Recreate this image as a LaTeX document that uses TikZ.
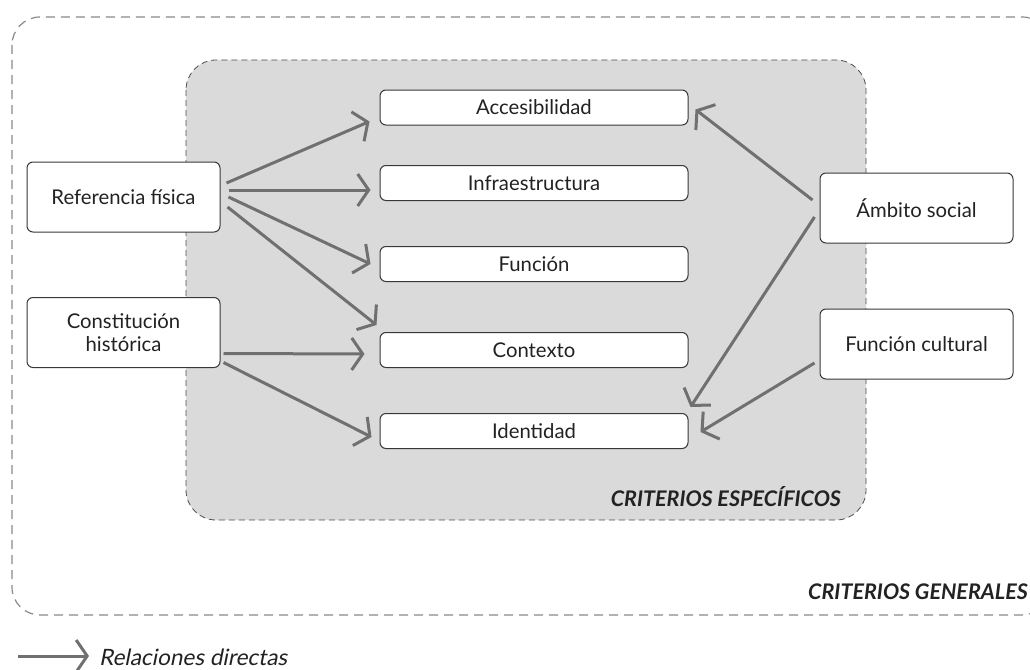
\documentclass[tikz,border=0pt]{standalone}
\usepackage{fontspec}
\setmainfont{Lato}
\newfontfamily\obliquefont{Lato}[FakeSlant=0.2]
\usetikzlibrary{arrows.meta}
\definecolor{relgray}{HTML}{707070}
\definecolor{panel}{HTML}{DADADA}
\definecolor{frame}{HTML}{8A8A8A}
\definecolor{ink}{HTML}{222222}
\tikzset{
  crit/.style={draw=ink!90, line width=1pt, rounded corners=6pt, fill=white,
    text=ink, font=\fontsize{20.3}{23}\selectfont, align=center, inner sep=0pt},
  midbox/.style={crit, minimum width=308pt, minimum height=35pt},
  sidebox/.style={crit, minimum width=193pt, minimum height=70pt},
  rel/.style={draw=relgray, line width=3pt,
    -{Straight Barb[length=11pt,width=32pt,line width=3pt]}},
  tag/.style={font=\fontsize{21.5}{25}\selectfont\bfseries\itshape, text=ink, inner sep=0pt},
  legendtext/.style={font=\obliquefont\fontsize{22.5}{26}\selectfont, text=ink, inner sep=0pt},
}
\begin{document}
\begin{tikzpicture}[x=1pt,y=-1pt]
\useasboundingbox (0,0) rectangle (1030,669);
\fill[white] (0,0) rectangle (1030,669);

% general criteria frame (runs past the right edge)
\begin{scope}
\clip (0,0) rectangle (1030,669);
\draw[frame, line width=1.2pt, dash pattern=on 9pt off 6pt, rounded corners=28pt]
  (12,17) rectangle (1050,615);
\end{scope}

% specific criteria panel
\draw[fill=panel, draw=ink!80, line width=0.8pt, dash pattern=on 6pt off 4pt, rounded corners=30pt]
  (186,60) rectangle (866,520);

% specific criteria
\node[midbox] (acc) at (534,107.5) {Accesibilidad};
\node[midbox] (inf) at (534,183) {Infraestructura};
\node[midbox] (fun) at (534,264) {Función};
\node[midbox] (con) at (534,350) {Contexto};
\node[midbox] (ide) at (534,431) {Identidad};

% general criteria
\node[sidebox] (ref) at (123.5,197) {Referencia física};
\node[sidebox] (his) at (123.5,332.5) {Constitución\\histórica};
\node[sidebox] (amb) at (916.5,208) {Ámbito social};
\node[sidebox] (cul) at (916.5,344) {Función cultural};

% direct relations (page yshift: positive is up)
\draw[rel] ([xshift=6pt,yshift=14pt]ref.east) -- ([xshift=-10pt,yshift=-14pt]acc.west);
\draw[rel] ([xshift=8pt,yshift=7pt]ref.east) -- ([xshift=-9pt,yshift=-7pt]inf.west);
\draw[rel] ([xshift=8pt,yshift=0pt]ref.east) -- ([xshift=-9pt,yshift=0pt]fun.west);
\draw[rel] ([xshift=7pt,yshift=-10pt]ref.east) -- ([xshift=-3pt,yshift=25pt]con.west);
\draw[rel] ([xshift=3pt,yshift=-21pt]his.east) -- ([xshift=-15pt,yshift=-4pt]con.west);
\draw[rel] ([xshift=3pt,yshift=-30pt]his.east) -- ([xshift=-8pt,yshift=-6pt]ide.west);
\draw[rel] ([xshift=-7pt,yshift=8pt]amb.west) -- ([xshift=7pt,yshift=-2pt]acc.east);
\draw[rel] ([xshift=-5pt,yshift=-9pt]amb.west) -- ([xshift=2pt,yshift=24pt]ide.east);
\draw[rel] ([xshift=-5pt,yshift=-19pt]cul.west) -- ([xshift=12pt,yshift=-1pt]ide.east);

% frame titles
\node[tag, anchor=east] (tesp) at (841,497) {CRITERIOS ESPECÍFICOS};
\node[tag, anchor=east] (tgen) at (1028,592) {CRITERIOS GENERALES};

% legend
\coordinate (legA) at (18,656);
\coordinate (legB) at (89,656);
\draw[rel] (legA) -- (legB);
\node[legendtext, anchor=west] (legt) at (99,657) {Relaciones directas};
\end{tikzpicture}
\end{document}
